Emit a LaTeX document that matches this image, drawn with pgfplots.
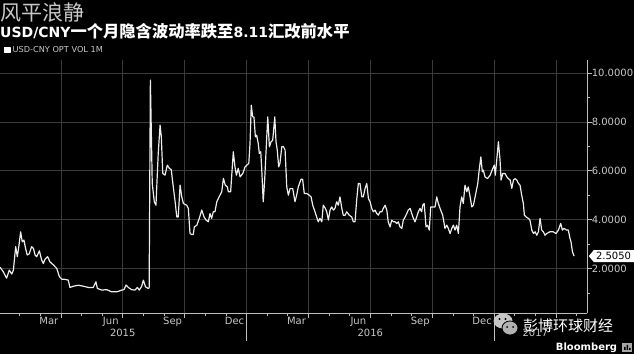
\documentclass[border=0pt]{standalone}
\usepackage{fontspec}
\usepackage{pgfplots}
\pgfplotsset{compat=1.18}
\setmainfont{DejaVu Sans}
\newfontfamily\cjk{Noto Sans CJK SC}
\definecolor{gridc}{HTML}{3A3A3A}
\definecolor{axc}{HTML}{BDBDBD}
\definecolor{txt}{HTML}{C8C8C8}
\begin{document}
\begin{tikzpicture}
\useasboundingbox (0bp,0bp) rectangle (634bp,354bp);
\fill[black] (0bp,0bp) rectangle (634bp,354bp);
% titles
\node[anchor=west, inner sep=0pt, text=txt] at (0bp,341bp) {\fontsize{21bp}{24bp}\selectfont\cjk 风平浪静};
\node[anchor=base west, inner sep=0pt, text=white] at (0bp,316bp) {{\fontsize{14bp}{16bp}\selectfont\bfseries USD/CNY}{\fontsize{16.3bp}{18bp}\selectfont\cjk\bfseries 一个月隐含波动率跌至}{\fontsize{14bp}{16bp}\selectfont\bfseries 8.11}{\fontsize{16.3bp}{18bp}\selectfont\cjk\bfseries 汇改前水平}};
\begin{axis}[
  at={(0bp,40.7bp)}, anchor=south west,
  scale only axis, width=587.3bp, height=253.3bp,
  xmin=0.05, xmax=28.52, ymin=0.16, ymax=10.54,
  clip=false,
  axis x line*=bottom, axis y line*=right,
  axis line style={draw=axc, line width=0.8bp},
  tick align=outside,
  major tick length=4.5bp, minor tick length=2.5bp,
  tick style={draw=axc, line width=0.6bp},
  xtick={3,6,...,27}, xticklabels={},
  minor xtick={1,2,...,28},
  extra x ticks={2.42,5.42,8.42,11.42,14.42,17.42,20.42,23.42},
  extra x tick labels={Mar,Jun,Sep,Dec,Mar,Jun,Sep,Dec},
  extra x tick style={major tick length=0pt, grid=none},
  ytick={2,4,6,8,10}, minor ytick={1,3,5,7,9},
  grid=major, major grid style={draw=gridc, line width=0.7bp},
  ticklabel style={font=\fontsize{10bp}{12bp}\selectfont, text=txt},
  yticklabel style={xshift=-3.5bp, /pgf/number format/.cd, fixed, fixed zerofill, precision=4, assume math mode=true},
  legend style={at={(0,1)}, anchor=west, xshift=4bp, yshift=10bp, draw=none, fill=none, inner sep=0pt,
    font=\fontsize{8.2bp}{9bp}\selectfont, text=txt},
  legend image code/.code={\fill[white] (0bp,-2.6bp) rectangle (5.2bp,2.6bp);},
]
\addplot[white!93!black, line width=1.2bp, line join=round] coordinates {
(0.05,2.05) (0.21,1.86) (0.37,1.6) (0.50,1.93) (0.62,1.77) (0.70,1.93) (0.81,2.89) (0.89,2.48)
(0.97,2.95) (1.05,3.5) (1.13,3.09) (1.21,3.16) (1.29,2.82) (1.37,2.55) (1.47,2.6) (1.58,2.89)
(1.67,2.82) (1.75,2.55) (1.83,2.48) (1.96,2.72) (2.07,2.34) (2.15,2.2) (2.23,2.37) (2.36,2.48)
(2.47,2.27) (2.64,2.14) (2.80,2.0) (2.93,1.66) (3.04,1.56) (3.20,1.55) (3.36,1.52) (3.44,1.22)
(3.61,1.27) (3.85,1.31) (4.09,1.27) (4.33,1.22) (4.57,1.22) (4.70,1.45) (4.77,1.18) (4.98,1.11)
(5.22,1.13) (5.46,1.04) (5.71,1.04) (5.95,1.11) (6.06,1.13) (6.16,1.32) (6.27,1.22) (6.43,1.13)
(6.59,1.11) (6.71,1.22) (6.80,1.11) (6.92,1.27) (7.00,1.52) (7.10,1.25) (7.23,1.18) (7.28,1.2)
(7.34,9.72) (7.43,5.48) (7.53,4.73) (7.61,4.59) (7.72,6.71) (7.81,7.87) (7.87,7.39) (7.94,5.89)
(8.05,5.82) (8.16,6.23) (8.26,6.1) (8.35,6.05) (8.45,5.34) (8.53,4.8) (8.62,4.11) (8.69,4.11)
(8.78,5.41) (8.86,4.93) (8.94,4.66) (9.10,4.59) (9.18,4.46) (9.26,3.43) (9.34,3.39) (9.42,3.39)
(9.47,3.7) (9.59,3.77) (9.71,4.05) (9.83,4.39) (9.94,4.11) (10.04,3.98) (10.15,3.91) (10.23,4.25)
(10.31,4.05) (10.39,4.32) (10.47,4.32) (10.56,4.73) (10.67,4.93) (10.80,5.14) (10.88,5.69) (10.97,5.41)
(11.07,5.34) (11.12,5.14) (11.23,5.14) (11.36,6.78) (11.44,6.16) (11.51,5.82) (11.60,6.1) (11.69,5.75)
(11.82,5.89) (11.93,6.16) (12.01,6.23) (12.11,6.3) (12.17,7.12) (12.23,8.69) (12.30,8.21) (12.36,8.21)
(12.43,7.39) (12.49,7.46) (12.57,7.12) (12.62,6.71) (12.69,6.78) (12.74,6.03) (12.81,4.73) (12.88,5.62)
(12.95,6.85) (13.03,8.21) (13.11,6.98) (13.19,7.19) (13.27,7.25) (13.37,8.21) (13.43,7.19) (13.49,6.85)
(13.56,6.16) (13.62,6.3) (13.71,6.98) (13.78,7.0) (13.87,6.85) (13.95,5.34) (14.03,5.0) (14.11,5.27)
(14.24,5.27) (14.35,4.73) (14.43,5.0) (14.51,5.34) (14.64,5.65) (14.72,5.65) (14.80,5.07) (14.92,5.07)
(15.04,5.0) (15.13,4.93) (15.21,4.59) (15.32,4.32) (15.40,4.11) (15.48,3.91) (15.56,4.05) (15.65,3.91)
(15.72,4.59) (15.82,4.46) (15.89,4.32) (15.97,3.98) (16.05,4.39) (16.13,4.52) (16.21,4.39) (16.29,4.46)
(16.37,4.73) (16.45,4.59) (16.53,4.93) (16.62,4.46) (16.69,4.18) (16.78,4.18) (16.86,4.32) (16.98,4.18)
(17.10,4.11) (17.18,3.91) (17.26,3.91) (17.34,4.8) (17.42,5.48) (17.50,5.48) (17.59,4.93) (17.66,4.93)
(17.75,5.28) (17.83,5.48) (17.91,4.86) (17.99,4.73) (18.07,4.46) (18.15,4.32) (18.23,4.39) (18.31,4.25)
(18.39,4.18) (18.47,4.32) (18.56,4.32) (18.63,4.46) (18.72,4.59) (18.80,4.39) (18.87,3.91) (18.96,3.7)
(19.04,3.98) (19.12,3.91) (19.20,3.91) (19.28,3.84) (19.36,3.91) (19.44,3.7) (19.53,3.64) (19.60,3.98)
(19.69,4.11) (19.77,4.25) (19.84,4.39) (19.93,4.46) (20.01,4.25) (20.09,4.05) (20.17,3.91) (20.25,4.11)
(20.33,4.32) (20.41,4.46) (20.49,4.32) (20.54,4.59) (20.61,4.66) (20.66,4.18) (20.70,3.7) (20.77,3.77)
(20.86,3.57) (20.93,4.52) (21.03,4.52) (21.14,4.52) (21.22,4.93) (21.30,4.66) (21.38,4.46) (21.51,4.18)
(21.62,3.64) (21.71,3.77) (21.78,3.64) (21.87,3.43) (21.95,3.64) (22.03,3.77) (22.11,3.57) (22.19,3.77)
(22.27,3.43) (22.35,4.52) (22.43,4.93) (22.51,4.66) (22.59,5.41) (22.68,5.14) (22.75,5.34) (22.84,4.93)
(22.92,4.52) (23.00,4.59) (23.13,5.14) (23.21,5.48) (23.27,5.96) (23.36,6.57) (23.43,5.96) (23.48,6.03)
(23.56,5.75) (23.68,5.68) (23.81,5.82) (23.94,6.1) (24.01,6.23) (24.06,5.82) (24.13,6.44) (24.21,7.19)
(24.29,6.44) (24.34,5.62) (24.42,5.89) (24.53,5.89) (24.62,5.75) (24.69,5.68) (24.78,5.62) (24.86,5.28)
(24.94,5.62) (25.02,5.68) (25.10,5.62) (25.18,5.48) (25.26,5.41) (25.34,5.0) (25.42,4.66) (25.47,4.18)
(25.55,4.11) (25.66,4.05) (25.74,3.98) (25.83,3.57) (25.91,3.43) (25.99,3.5) (26.07,3.36) (26.15,3.5)
(26.23,4.05) (26.31,3.57) (26.39,3.5) (26.47,3.36) (26.55,3.43) (26.71,3.5) (26.87,3.5) (27.00,3.43)
(27.12,3.57) (27.23,3.84) (27.31,3.57) (27.39,3.64) (27.52,3.57) (27.60,3.57) (27.68,3.23) (27.73,3.09)
(27.80,2.68) (27.88,2.505)
};
\addlegendentry{USD-CNY OPT VOL 1M}
\coordinate (lastv) at (axis cs:28.52,2.505);
% year separators and labels
\draw[axc, line width=0.6bp] (axis cs:12,0.16) -- ++(0bp,-28bp);
\draw[axc, line width=0.6bp] (axis cs:24,0.16) -- ++(0bp,-28bp);
\node[text=txt, font=\fontsize{10bp}{12bp}\selectfont] at (axis cs:6,0.16) [yshift=-19.7bp] {2015};
\node[text=txt, font=\fontsize{10bp}{12bp}\selectfont] at (axis cs:18,0.16) [yshift=-19.7bp] {2016};
\node[text=txt, font=\fontsize{10bp}{12bp}\selectfont] at (axis cs:26,0.16) [yshift=-19.7bp] {2017};
\end{axis}
% last value label
\fill[white] ([xshift=1.5bp]lastv) -- ++(5bp,6bp) -- ++(40bp,0bp) -- ++(0bp,-12bp) -- ++(-40bp,0bp) -- cycle;
\node[text=black, inner sep=0pt, font=\fontsize{10bp}{12bp}\selectfont] at ([xshift=26.2bp]lastv) {2.5050};
% watermark
\fill[gray!45!white] (503bp,33bp) ellipse (9.5bp and 7.5bp);
\filldraw[fill=gray!60!white, draw=black, line width=0.8bp] (510bp,26bp) ellipse (8bp and 7bp);
\fill[black] (499.5bp,35bp) circle (1.1bp) (505.5bp,35bp) circle (1.1bp);
\fill[black] (507bp,27bp) circle (1bp) (513bp,27bp) circle (1bp);
\node[text=white, inner sep=0pt] at (568bp,28.5bp) {\fontsize{15bp}{17bp}\selectfont\cjk 彭博环球财经};
\node[text=white, inner sep=0pt, font=\fontsize{10bp}{12bp}\selectfont\bfseries] at (586.5bp,6.5bp) {Bloomberg};
\fill[gray!70!white] (622bp,2bp) rectangle (632bp,11bp);
\fill[black] (624bp,4bp) rectangle (625.5bp,7bp) (626.5bp,4bp) rectangle (628bp,9bp) (629bp,4bp) rectangle (630.5bp,6bp);
\end{tikzpicture}
\end{document}
